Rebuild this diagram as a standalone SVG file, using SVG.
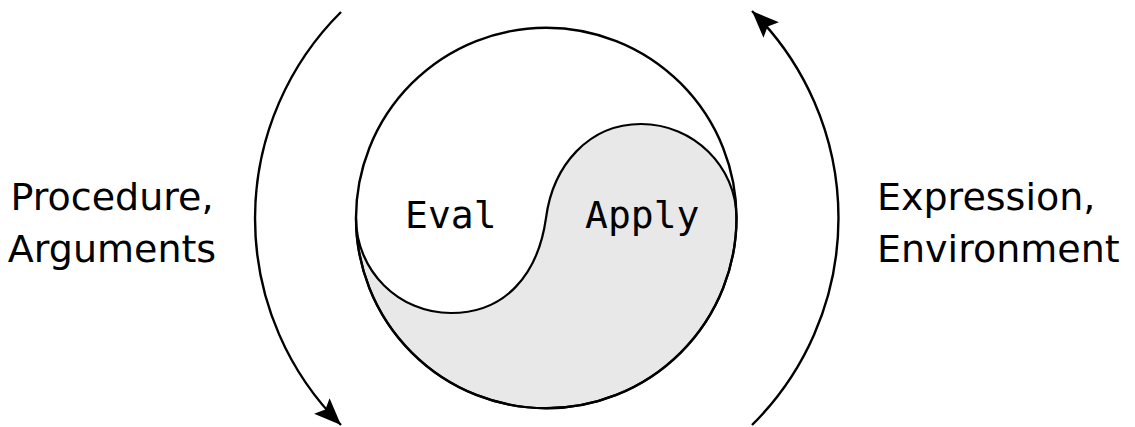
<svg xmlns="http://www.w3.org/2000/svg" width="1135" height="427" viewBox="0 0 1135 427">
<style>
.ln{fill:none;stroke:#000;stroke-width:2.4}
.lbl{font-family:"DejaVu Sans","Liberation Sans",sans-serif;font-size:38px;fill:#000}
.mono{font-family:"DejaVu Sans Mono","Liberation Mono",monospace;font-size:38px;fill:#000}
</style>
<defs>
<marker id="ah" markerUnits="userSpaceOnUse" viewBox="-28 -12 30 24" refX="0" refY="0" markerWidth="30" markerHeight="24" orient="auto">
<path d="M0,0 L-27,-11 L-22,0 L-27,11 Z" fill="#000"/>
</marker>
</defs>
<rect width="1135" height="427" fill="#fff"/>
<g id="yinyang">
<path d="M356,218 C356,270.5 398.5,313 451,313 C505,313 538,275 546,218 C553,165 589,124 641,124 C693.5,124 736.5,166.5 736.5,218 A190.25,190.25 0 0 1 356,218 Z" fill="#e8e8e8" stroke="#000" stroke-width="2.2"/>
<circle cx="546.25" cy="218" r="190.25" class="ln"/>
</g>
<g id="eval"><text x="405" y="228" class="mono">Eval</text></g>
<g id="apply"><text x="585" y="228" class="mono">Apply</text></g>
<g id="left-label">
<text x="112" y="209.5" class="lbl" text-anchor="middle">Procedure,</text>
<text x="112" y="262" class="lbl" text-anchor="middle">Arguments</text>
</g>
<g id="right-label">
<text x="877" y="209.5" class="lbl">Expression,</text>
<text x="877" y="262" class="lbl">Environment</text>
</g>
<g id="connectors">
<path d="M341,12 A291,291 0 0 0 341,425" class="ln" marker-end="url(#ah)"/>
<path d="M752,425 A291,291 0 0 0 752,11" class="ln" marker-end="url(#ah)"/>
</g>
</svg>
